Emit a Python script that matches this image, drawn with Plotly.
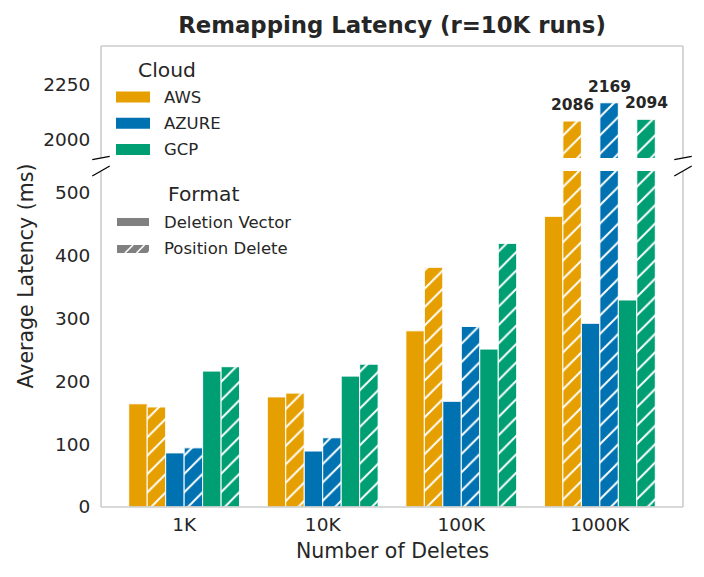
import plotly.graph_objects as go

# ---------------- data ----------------
categories = ["1K", "10K", "100K", "1000K"]
clouds = ["AWS", "AZURE", "GCP"]
formats = ["Deletion Vector", "Position Delete"]
cloud_colors = ["#E69F00", "#0072B2", "#009E73"]

aws_dv = [164, 175, 280, 462]
aws_pd = [159, 181, 381, 2086]
azure_dv = [86, 89, 168, 292]
azure_pd = [94, 110, 287, 2169]
gcp_dv = [216, 208, 251, 329]
gcp_pd = [223, 227, 419, 2094]

lower_ticks = [0, 100, 200, 300, 400, 500]
upper_ticks = [2000, 2250]
lower_range = [0, 534]
upper_range = [1918, 2427]

series_dv = [aws_dv, azure_dv, gcp_dv]
series_pd = [aws_pd, azure_pd, gcp_pd]

# ---------------- layout geometry (page pixels) ----------------
OFF = 8  # default body margin of the html page
W, H = 704, 577
L, R, T, B = 101, 683, 46, 507
PW, PH = R - L, B - T
upper_bottom_px = 158
lower_top_px = 171


def X(px):
    return (px - L) / PW


def Y(py):
    return (B - py) / PH


TEXT = "#262626"
FONT = "DejaVu Sans"
BAR_GAP = 0.2

fig = go.Figure()

n_tr = 2 * len(clouds)
bw = (1 - BAR_GAP) / n_tr
annotations = []

for xa, ya, is_upper in [("x", "y", False), ("x2", "y2", True)]:
    for k, (cloud, color, dv, pdv) in enumerate(zip(clouds, cloud_colors, series_dv, series_pd)):
        fig.add_trace(go.Bar(
            x=categories, y=dv, xaxis=xa, yaxis=ya, name=f"{cloud} {formats[0]}",
            marker=dict(color=color, line=dict(color="white", width=1)),
            showlegend=False, hoverinfo="skip",
        ))
        fig.add_trace(go.Bar(
            x=categories, y=pdv, xaxis=xa, yaxis=ya, name=f"{cloud} {formats[1]}",
            marker=dict(color=color, line=dict(color="white", width=1),
                        pattern=dict(shape="/", fgcolor="white", bgcolor=color,
                                     size=13, solidity=0.15, fillmode="replace")),
            showlegend=False, hoverinfo="skip",
        ))
        if is_upper:
            j = 2 * k + 1
            for ci, v in enumerate(pdv):
                if v >= upper_range[0]:
                    annotations.append(dict(
                        text=f"<b>{v}</b>", xref="x2", yref="y2",
                        x=ci - (1 - BAR_GAP) / 2 + (j + 0.5) * bw, y=v,
                        yshift=16, xanchor="center", yanchor="middle", showarrow=False,
                        font=dict(family=FONT, size=15.5, color=TEXT)))

axis_common = dict(showgrid=False, zeroline=False, showline=False,
                   tickfont=dict(family=FONT, size=18.5, color=TEXT))

fig.update_layout(
    width=W - OFF, height=H - OFF,
    margin=dict(l=L - OFF, r=W - R, t=T - OFF, b=H - B, pad=0),
    paper_bgcolor="white", plot_bgcolor="white",
    barmode="group", bargap=BAR_GAP, bargroupgap=0,
    font=dict(family=FONT, color=TEXT),
    title=dict(text="Remapping Latency (r=10K runs)", x=X(0.5 * (L + R)), xref="paper",
               xanchor="center", y=1 - (25 - OFF) / (H - OFF), yanchor="middle", yref="container",
               font=dict(family=FONT, size=22.8, color=TEXT, weight="bold")),
    xaxis=dict(domain=[0, 1], anchor="y", type="category", range=[-0.6, 3.6],
               ticks="outside", ticklen=1, tickcolor="rgba(0,0,0,0)", **axis_common),
    xaxis2=dict(domain=[0, 1], anchor="y2", matches="x", type="category",
                showticklabels=False, ticks="", showgrid=False, zeroline=False, showline=False),
    yaxis=dict(domain=[0, Y(lower_top_px)], anchor="x", range=lower_range, tickvals=lower_ticks,
               ticks="outside", ticklen=6, tickcolor="rgba(0,0,0,0)", **axis_common),
    yaxis2=dict(domain=[Y(upper_bottom_px), 1], anchor="x2", range=upper_range, tickvals=upper_ticks,
                ticks="outside", ticklen=6, tickcolor="rgba(0,0,0,0)", **axis_common),
)

shapes = []
spine = dict(color="#cccccc", width=1.6)
yu0, yl1 = Y(upper_bottom_px), Y(lower_top_px)
# upper panel frame
shapes += [
    dict(type="line", xref="paper", yref="paper", x0=0, x1=1, y0=1, y1=1, line=spine),
    dict(type="line", xref="paper", yref="paper", x0=0, x1=0, y0=yu0, y1=1, line=spine),
    dict(type="line", xref="paper", yref="paper", x0=1, x1=1, y0=yu0, y1=1, line=spine),
]
# lower panel frame
shapes += [
    dict(type="line", xref="paper", yref="paper", x0=0, x1=1, y0=0, y1=0, line=spine),
    dict(type="line", xref="paper", yref="paper", x0=0, x1=0, y0=0, y1=yl1, line=spine),
    dict(type="line", xref="paper", yref="paper", x0=1, x1=1, y0=0, y1=yl1, line=spine),
]
# break marks
brk = dict(color="black", width=1.2)
d = 0.015
upper_h = PH * (1 - yu0)
lower_h = PH * yl1
for xc in (L, R):
    dx = d * PW
    dyu = d * upper_h
    dyl = d * lower_h
    shapes.append(dict(type="line", xref="paper", yref="paper",
                       x0=X(xc - dx), y0=Y(upper_bottom_px + dyu), x1=X(xc + dx), y1=Y(upper_bottom_px - dyu), line=brk))
    shapes.append(dict(type="line", xref="paper", yref="paper",
                       x0=X(xc - dx), y0=Y(lower_top_px + dyl), x1=X(xc + dx), y1=Y(lower_top_px - dyl), line=brk))

# axis titles
annotations.append(dict(text="Number of Deletes", xref="paper", yref="paper", x=X(0.5 * (L + R)), y=Y(551),
                        xanchor="center", yanchor="middle", showarrow=False,
                        font=dict(family=FONT, size=20.5, color=TEXT)))
annotations.append(dict(text="Average Latency (ms)", xref="paper", yref="paper", x=X(25), y=Y(0.5 * (T + B)),
                        xanchor="center", yanchor="middle", showarrow=False, textangle=-90,
                        font=dict(family=FONT, size=20.5, color=TEXT)))

# Cloud legend
annotations.append(dict(text="Cloud", xref="paper", yref="paper", x=X(167), y=Y(70),
                        xanchor="center", yanchor="middle", showarrow=False,
                        font=dict(family=FONT, size=20.3, color=TEXT)))
for i, (cloud, color) in enumerate(zip(clouds, cloud_colors)):
    yc = 97 + i * 26.3
    shapes.append(dict(type="rect", xref="paper", yref="paper", x0=X(116), x1=X(150),
                       y0=Y(yc + 5.5), y1=Y(yc - 5.5), fillcolor=color, line=dict(width=0)))
    annotations.append(dict(text=cloud, xref="paper", yref="paper", x=X(162), y=Y(yc),
                            xanchor="left", yanchor="middle", showarrow=False,
                            font=dict(family=FONT, size=16.5, color=TEXT)))

# Format legend
annotations.append(dict(text="Format", xref="paper", yref="paper", x=X(204), y=Y(194),
                        xanchor="center", yanchor="middle", showarrow=False,
                        font=dict(family=FONT, size=20.3, color=TEXT)))
for i, fmt in enumerate(formats):
    yc = 222 + i * 27
    shapes.append(dict(type="rect", xref="paper", yref="paper", x0=X(117), x1=X(149),
                       y0=Y(yc + 4), y1=Y(yc - 4), fillcolor="#808080", line=dict(width=0)))
    if i == 1:
        for xs in (125, 136.5, 148):
            shapes.append(dict(type="line", xref="paper", yref="paper",
                               x0=X(xs), y0=Y(yc + 4), x1=X(xs + 8), y1=Y(yc - 4),
                               line=dict(color="white", width=1.6)))
    annotations.append(dict(text=fmt, xref="paper", yref="paper", x=X(162), y=Y(yc),
                            xanchor="left", yanchor="middle", showarrow=False,
                            font=dict(family=FONT, size=16.5, color=TEXT)))

fig.update_layout(shapes=shapes, annotations=annotations)
fig.write_html("out.html")
